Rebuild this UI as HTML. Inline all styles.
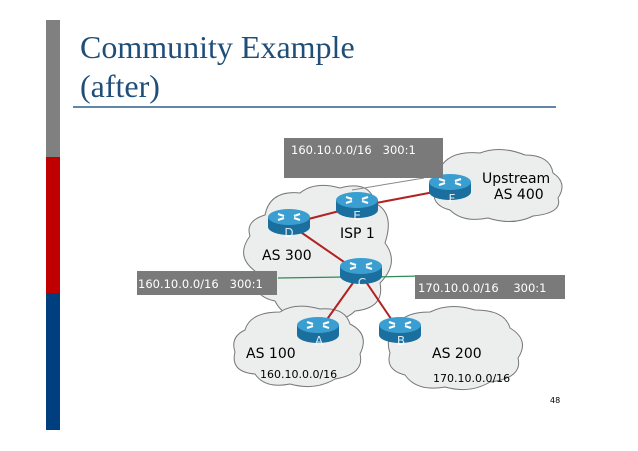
<!DOCTYPE html>
<html><head><style>
body{margin:0;width:638px;height:451px;background:#fff;overflow:hidden}
svg{display:block}
</style></head><body>
<svg width="638" height="451" viewBox="0 0 638 451" xmlns="http://www.w3.org/2000/svg" font-family="DejaVu Sans, Liberation Sans, sans-serif">
<defs>
<g id="rt">
<path d="M-21,0 v10 a21,8 0 0 0 42,0 v-10 z" fill="#1a6f9e"/>
<ellipse cx="0" cy="0" rx="21" ry="8" fill="#3a9fd0"/>
<path d="M-11,-3 l6,2 M-11,3 l6,-2 M11,-3 l-6,2 M11,3 l-6,-2" stroke="#fff" stroke-width="2"/>
</g>
</defs>
<rect x="46" y="20" width="14" height="137" fill="#808080"/>
<rect x="46" y="157" width="14" height="136" fill="#c00000"/>
<rect x="46" y="293" width="14" height="137" fill="#003f7f"/>
<text x="80" y="58" font-family="Liberation Serif, serif" font-size="32" fill="#1f4e79">Community Example</text>
<text x="80" y="97" font-family="Liberation Serif, serif" font-size="32" fill="#1f4e79">(after)</text>
<line x1="73" y1="107" x2="556" y2="107" stroke="#2e5f8a" stroke-width="1.5"/>
<g fill="#eceeee" stroke="#777" stroke-width="1">
<path d="M265,215 q5,-25 35,-22 q15,-12 40,-5 q30,-8 35,15 q20,10 10,40 q15,20 -5,40 q5,25 -25,28 q-15,15 -45,5 q-25,5 -35,-15 q-25,-5 -20,-30 q-20,-15 -5,-35 q-5,-15 15,-21z"/>
<path d="M440,168 q10,-18 40,-15 q20,-8 45,2 q25,0 28,18 q15,10 5,25 q5,15 -25,18 q-20,10 -45,2 q-25,5 -38,-8 q-20,-5 -15,-22 q-5,-15 5,-20z"/>
<path d="M245,330 q5,-18 35,-18 q15,-10 40,-3 q25,-2 30,15 q20,10 10,30 q5,20 -25,25 q-20,12 -45,5 q-25,5 -35,-10 q-25,-2 -20,-22 q-5,-15 10,-22z"/>
<path d="M395,330 q5,-18 35,-18 q20,-10 45,-2 q30,0 35,18 q20,12 8,30 q5,20 -28,24 q-20,12 -45,5 q-28,5 -40,-12 q-20,-5 -15,-22 q-5,-15 5,-23z"/>
</g>
<g stroke="#b22222" stroke-width="2">
<line x1="289" y1="224" x2="355" y2="207"/>
<line x1="355" y1="207" x2="450" y2="189"/>
<line x1="289" y1="224" x2="360" y2="273"/>
<line x1="360" y1="273" x2="318" y2="332"/>
<line x1="360" y1="273" x2="400" y2="332"/>
</g>
<g stroke="#2e8b57" stroke-width="1.2">
<line x1="278" y1="278" x2="345" y2="277"/>
<line x1="375" y1="277" x2="420" y2="276"/>
</g>
<line x1="352" y1="190" x2="424" y2="178" stroke="#888" stroke-width="1"/>
<use href="#rt" x="289" y="217"/>
<use href="#rt" x="357" y="200"/>
<use href="#rt" x="450" y="182"/>
<use href="#rt" x="361" y="266"/>
<use href="#rt" x="318" y="325"/>
<use href="#rt" x="400" y="325"/>
<g fill="#fff" font-size="12" text-anchor="middle" opacity="0.85">
<text x="289" y="237">D</text><text x="357" y="220">E</text><text x="452" y="203">F</text>
<text x="362" y="287">C</text><text x="319" y="345">A</text><text x="401" y="345">B</text>
</g>
<g font-size="14" fill="#000">
<text x="262" y="260">AS 300</text>
<text x="340" y="238">ISP 1</text>
<text x="482" y="183">Upstream</text>
<text x="494" y="199">AS 400</text>
<text x="246" y="358">AS 100</text>
<text x="432" y="358">AS 200</text>
</g>
<g font-size="11" fill="#000">
<text x="260" y="378">160.10.0.0/16</text>
<text x="433" y="382">170.10.0.0/16</text>
</g>
<text x="550" y="403" font-size="8" fill="#000">48</text>
<g fill="#7a7a7a">
<rect x="284" y="138" width="159" height="40"/>
<rect x="137" y="271" width="140" height="24"/>
<rect x="415" y="275" width="150" height="24"/>
</g>
<g fill="#fff" font-size="11.5">
<text x="291" y="154">160.10.0.0/16&#160;&#160;&#160;300:1</text>
<text x="138" y="288">160.10.0.0/16&#160;&#160;&#160;300:1</text>
<text x="418" y="292">170.10.0.0/16&#160;&#160;&#160;&#160;300:1</text>
</g>
</svg>
</body></html>
